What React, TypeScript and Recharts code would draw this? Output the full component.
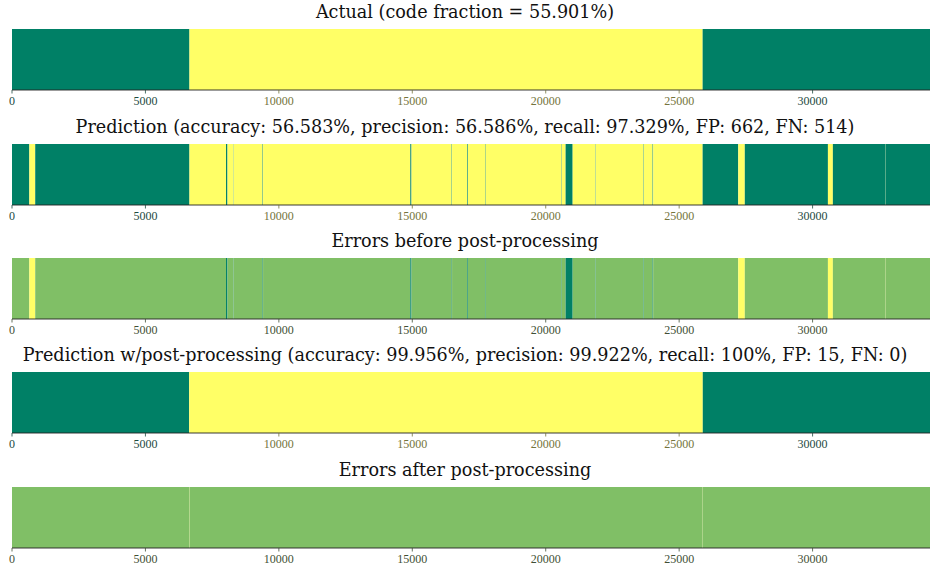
import { BarChart, Bar, XAxis, YAxis } from 'recharts';

// sequence length and axis ticks
const seqLength = 34400;
const tickValues = [0, 5000, 10000, 15000, 20000, 25000, 30000];

// code regions (start/end positions) per prediction
const actualCodeStarts = [6650];
const actualCodeEnds = [25880];

const predCodeStarts = [
  650, 6650, 8075, 8302, 9408, 14970, 16490, 17085, 17762, 20607, 21010, 21870,
  23671, 24027, 27215, 30575, 32715,
];
const predCodeEnds = [
  870, 8020, 8290, 9390, 14925, 16475, 17060, 17750, 20595, 20745, 21855, 23653,
  24005, 25880, 27460, 30760, 32727,
];

const postCodeStarts = [6640];
const postCodeEnds = [25885];

const titles = [
  'Actual (code fraction = 55.901%)',
  'Prediction (accuracy: 56.583%, precision: 56.586%, recall: 97.329%, FP: 662, FN: 514)',
  'Errors before post-processing',
  'Prediction w/post-processing (accuracy: 99.956%, precision: 99.922%, recall: 100%, FP: 15, FN: 0)',
  'Errors after post-processing',
];

const colorOf = (v: number) => (v === 0 ? '#008066' : v === 1 ? '#ffff66' : '#80bf66');
const tickColorOf = (v: number) => (v === 0 ? '#1d4a3f' : v === 1 ? '#74743c' : '#3f4f36');

type Seg = { from: number; to: number; value: number };

function toSegments(starts: number[], ends: number[]): Seg[] {
  const segs: Seg[] = [];
  let pos = 0;
  starts.forEach((s, i) => {
    if (s > pos) segs.push({ from: pos, to: s, value: 0 });
    segs.push({ from: s, to: ends[i], value: 1 });
    pos = ends[i];
  });
  if (pos < seqLength) segs.push({ from: pos, to: seqLength, value: 0 });
  return segs;
}

function valueAt(segs: Seg[], x: number) {
  const s = segs.find((g) => x >= g.from && x < g.to);
  return s ? s.value : segs[segs.length - 1].value;
}

// error map: 0.5 where correct, 1 for false positive, 0 for false negative
function errorSegments(actual: Seg[], pred: Seg[]): Seg[] {
  const cuts = Array.from(
    new Set([...actual, ...pred].flatMap((g) => [g.from, g.to]))
  ).sort((a, b) => a - b);
  const out: Seg[] = [];
  for (let i = 0; i < cuts.length - 1; i++) {
    const mid = (cuts[i] + cuts[i + 1]) / 2;
    const v = 0.5 + (valueAt(pred, mid) - valueAt(actual, mid)) / 2;
    const last = out[out.length - 1];
    if (last && last.value === v) last.to = cuts[i + 1];
    else out.push({ from: cuts[i], to: cuts[i + 1], value: v });
  }
  return out;
}

const actualSegs = toSegments(actualCodeStarts, actualCodeEnds);
const predSegs = toSegments(predCodeStarts, predCodeEnds);
const postSegs = toSegments(postCodeStarts, postCodeEnds);
const panels = [
  actualSegs,
  predSegs,
  errorSegments(actualSegs, predSegs),
  postSegs,
  errorSegments(actualSegs, postSegs),
];

const STRIP_TOP = 29.3;
const PANEL_STEP = 114.3;
const STRIP_H = 61;

function Panel({ segs, title, index }: { segs: Seg[]; title: string; index: number }) {
  const row: Record<string, number | string> = { name: 'row' };
  segs.forEach((g, i) => {
    row[`s${i}`] = g.to - g.from;
  });
  const stripTop = STRIP_TOP + index * PANEL_STEP;

  const Tick = (props: any) => {
    const { x, y, payload } = props;
    const c = tickColorOf(valueAt(segs, payload.value));
    return (
      <g>
        <line x1={x} x2={x} y1={y - 6} y2={y - 2.5} stroke={c} strokeWidth={0.8} />
        <text
          x={x}
          y={y + 9}
          textAnchor="middle"
          fill={c}
          fontSize={12}
          fontFamily="'Liberation Serif', serif"
        >
          {payload.value}
        </text>
      </g>
    );
  };

  return (
    <>
      <div
        style={{
          position: 'absolute',
          left: 0,
          width: 930,
          top: stripTop - 29,
          height: 24,
          lineHeight: '24px',
          textAlign: 'center',
          fontFamily: "'DejaVu Serif', serif",
          fontSize: 17.6,
          color: '#111',
          whiteSpace: 'nowrap',
        }}
      >
        {title}
      </div>
      <div style={{ position: 'absolute', left: 0, top: stripTop - 29 }}>
        <BarChart
          width={930}
          height={29 + STRIP_H + 24}
          data={[row]}
          layout="vertical"
          barCategoryGap={0}
          margin={{ top: 29, right: 0, bottom: 0, left: 12 }}
        >
          <XAxis
            type="number"
            domain={[0, seqLength]}
            ticks={tickValues}
            allowDataOverflow
            tickSize={6}
            tickMargin={0}
            tickLine={false}
            axisLine={{ stroke: '#222', strokeWidth: 0.9 }}
            tick={<Tick />}
            height={24}
          />
          <XAxis
            xAxisId="top"
            orientation="top"
            type="number"
            domain={[0, seqLength]}
            tick={false}
            tickLine={false}
            axisLine={{ stroke: '#444', strokeWidth: 0.8 }}
            height={0}
          />
          <YAxis
            type="category"
            dataKey="name"
            width={0}
            tick={false}
            tickLine={false}
            axisLine={{ stroke: '#444', strokeWidth: 0.8 }}
          />
          {segs.map((g, i) => (
            <Bar
              key={i}
              dataKey={`s${i}`}
              stackId="a"
              fill={colorOf(g.value)}
              isAnimationActive={false}
            />
          ))}
        </BarChart>
      </div>
    </>
  );
}

export default function App() {
  return (
    <div
      style={{
        position: 'absolute',
        left: 0,
        top: 0,
        width: 930,
        height: 569,
        background: '#fff',
        overflow: 'hidden',
      }}
    >
      {panels.map((segs, i) => (
        <Panel key={i} segs={segs} title={titles[i]} index={i} />
      ))}
    </div>
  );
}
